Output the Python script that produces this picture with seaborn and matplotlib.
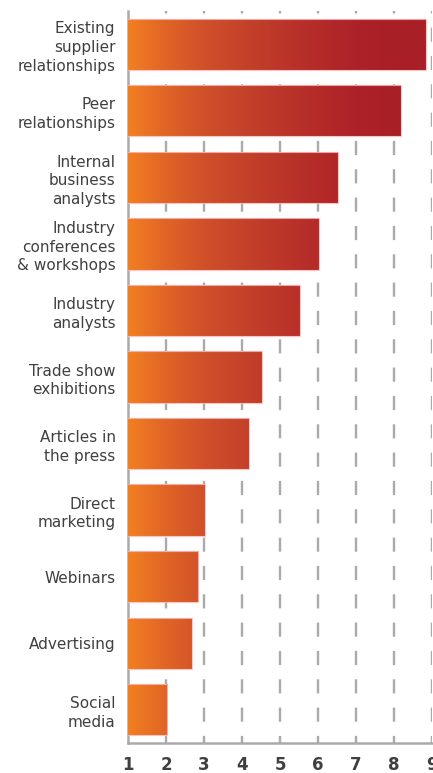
import numpy as np
import pandas as pd
import matplotlib
matplotlib.use("Agg")
import matplotlib.pyplot as plt
import seaborn as sns
from matplotlib.colors import LinearSegmentedColormap

categories = ["Existing\nsupplier\nrelationships", "Peer\nrelationships",
              "Internal\nbusiness\nanalysts", "Industry\nconferences\n& workshops",
              "Industry\nanalysts", "Trade show\nexhibitions", "Articles in\nthe press",
              "Direct\nmarketing", "Webinars", "Advertising", "Social\nmedia"]
values = [8.83, 8.18, 6.52, 6.02, 5.52, 4.52, 4.18, 3.02, 2.85, 2.68, 2.03]
xticks = [1, 2, 3, 4, 5, 6, 7, 8, 9]

df = pd.DataFrame({"cat": categories, "val": values})

sns.set_style("white")
plt.rcParams['font.family'] = ['DejaVu Sans']

fig = plt.figure(figsize=(4.33, 7.73), dpi=100)
ax = fig.add_axes([128/433, 1 - 743/773, 304/433, 732/773])

sns.barplot(data=df, x="val", y="cat", orient="h", ax=ax, width=0.77,
            color="#C8462A", zorder=3)

ax.set_xlim(1, 9)
ax.set_ylim(len(categories) - 0.5, -0.5)

stops_x = [1, 2, 3, 4, 5, 6, 7, 8, 9]
stops_c = ["#F27F22", "#E06426", "#D0502A", "#C4432A", "#BC3629",
           "#B42B29", "#AD2228", "#A91F26", "#A91F26"]
cmap = LinearSegmentedColormap.from_list(
    "og", [((sx - 1) / 8, c) for sx, c in zip(stops_x, stops_c)])
grad = np.linspace(0, 1, 512).reshape(1, -1)
for p in ax.patches:
    x0, y0 = p.get_x(), p.get_y()
    w, h = p.get_width(), p.get_height()
    p.set_facecolor("none")
    p.set_edgecolor((1, 0.72, 0.72, 0.85))
    p.set_linewidth(0.8)
    p.set_zorder(5)
    im = ax.imshow(grad, cmap=cmap, aspect="auto", extent=(1, 9, y0 + h, y0),
                   zorder=4, interpolation="bilinear")
    im.set_clip_path(p)

ax.set_xlim(1, 9)
ax.set_ylim(len(categories) - 0.5, -0.5)

gray = "#AAAAAA"
ax.set_xticks(xticks)
ax.set_xticklabels([str(t) for t in xticks], fontsize=12, fontweight="bold", color="#404040")
for x in xticks[1:]:
    ax.axvline(x, color=gray, lw=1.7, linestyle=(3, (6, 6)), zorder=1)

ax.tick_params(axis="x", direction="inout", length=12, width=1.8, color=gray, pad=3)
ax.set_yticks(range(len(categories)))
ax.set_yticklabels(categories, fontsize=11, color="#404040", linespacing=1.3, ha="right")
ax.tick_params(axis="y", length=0, pad=9)
ax.set_yticks(np.arange(len(categories) - 1) + 0.5, minor=True)
ax.tick_params(axis="y", which="minor", length=4, width=1.5, color=gray, direction="out")

for s in ["top", "right"]:
    ax.spines[s].set_visible(False)
for s in ["left", "bottom"]:
    ax.spines[s].set_color(gray)
    ax.spines[s].set_linewidth(1.8)
ax.set_xlabel("")
ax.set_ylabel("")

fig.savefig("out.png", dpi=100)
